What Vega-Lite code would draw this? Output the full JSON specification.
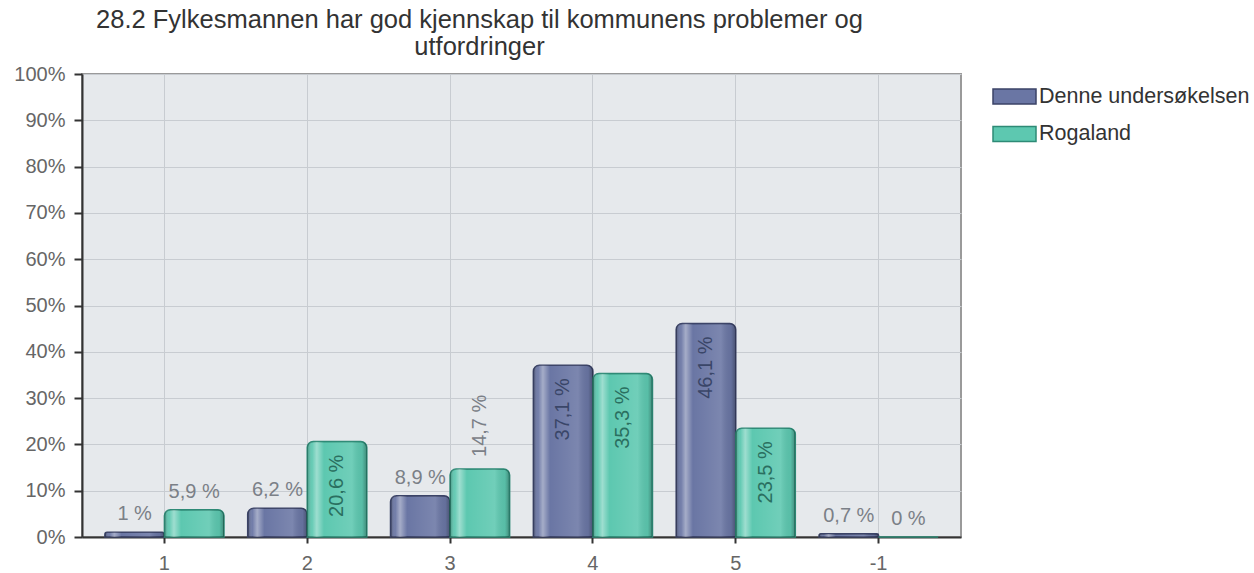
{
  "$schema": "https://vega.github.io/schema/vega-lite/v6.json",
  "width": 879,
  "height": 463,
  "autosize": {"type": "none"},
  "padding": {"left": 82, "top": 74, "right": 293, "bottom": 36},
  "background": "white",
  "config": {
    "font": "Liberation Sans",
    "view": {"fill": "#e6e9ec", "stroke": "#9a9a9a", "strokeWidth": 2}
  },
  "title": {
    "text": ["28.2 Fylkesmannen har god kjennskap til kommunens problemer og", "utfordringer"],
    "anchor": "middle",
    "frame": "group",
    "dx": -42,
    "fontSize": 25.5,
    "fontWeight": "normal",
    "color": "#333333",
    "lineHeight": 27,
    "offset": 4
  },
  "data": {
    "values": [
      {"cat": "1", "series": "Denne undersøkelsen", "value": 1, "label": "1 %"},
      {"cat": "1", "series": "Rogaland", "value": 5.9, "label": "5,9 %"},
      {"cat": "2", "series": "Denne undersøkelsen", "value": 6.2, "label": "6,2 %"},
      {"cat": "2", "series": "Rogaland", "value": 20.6, "label": "20,6 %"},
      {"cat": "3", "series": "Denne undersøkelsen", "value": 8.9, "label": "8,9 %"},
      {"cat": "3", "series": "Rogaland", "value": 14.7, "label": "14,7 %"},
      {"cat": "4", "series": "Denne undersøkelsen", "value": 37.1, "label": "37,1 %"},
      {"cat": "4", "series": "Rogaland", "value": 35.3, "label": "35,3 %"},
      {"cat": "5", "series": "Denne undersøkelsen", "value": 46.1, "label": "46,1 %"},
      {"cat": "5", "series": "Rogaland", "value": 23.5, "label": "23,5 %"},
      {"cat": "-1", "series": "Denne undersøkelsen", "value": 0.7, "label": "0,7 %"},
      {"cat": "-1", "series": "Rogaland", "value": 0, "label": "0 %"}
    ]
  },
  "encoding": {
    "x": {
      "field": "cat", "type": "nominal", "sort": ["1", "2", "3", "4", "5", "-1"],
      "scale": {"paddingInner": 0.166, "paddingOuter": 0.16},
      "axis": {
        "title": null, "labelAngle": 0, "labelFontSize": 20, "labelColor": "#666666",
        "labelPadding": 10, "tickSize": 6, "tickColor": "#333333", "tickWidth": 2,
        "domainColor": "#333333", "domainWidth": 2, "grid": true, "gridColor": "#c8ccd1", "gridWidth": 1
      }
    },
    "xOffset": {"field": "series", "type": "nominal", "sort": ["Denne undersøkelsen", "Rogaland"]},
    "y": {
      "field": "value", "type": "quantitative", "scale": {"domain": [0, 100]},
      "axis": {
        "title": null, "values": [0, 10, 20, 30, 40, 50, 60, 70, 80, 90, 100],
        "labelExpr": "datum.value + '%'", "labelFontSize": 20, "labelColor": "#666666",
        "labelPadding": 9, "tickSize": 8, "tickColor": "#333333", "tickWidth": 2,
        "domainColor": "#333333", "domainWidth": 2, "grid": true, "gridColor": "#c8ccd1", "gridWidth": 1
      }
    }
  },
  "layer": [
    {
      "mark": {"type": "bar", "cornerRadiusTopLeft": 6, "cornerRadiusTopRight": 6, "strokeWidth": 1.5, "opacity": 1},
      "encoding": {
        "color": {
          "field": "series", "type": "nominal", "sort": ["Denne undersøkelsen", "Rogaland"],
          "scale": {"range": ["#6a76a4", "#5dc8b0"]},
          "legend": {
            "title": null, "orient": "none", "legendX": 910, "legendY": 0,
            "symbolType": "M-1,-0.35H1V0.35H-1Z", "symbolSize": 1849, "symbolStrokeWidth": 1.5,
            "symbolOpacity": 1, "labelLimit": 400,
            "labelFontSize": 21.5, "labelColor": "#333333", "labelOffset": 2, "rowPadding": 3.5, "padding": 0,
            "encode": {"symbols": {"update": {"stroke": {"scale": "stroke", "field": "value"}}}}
          }
        },
        "stroke": {
          "field": "series", "type": "nominal", "sort": ["Denne undersøkelsen", "Rogaland"],
          "scale": {"range": ["#3b4367", "#2e8a76"]},
          "legend": null
        }
      }
    },
    {
      "mark": {
        "type": "bar", "cornerRadiusTopLeft": 6, "cornerRadiusTopRight": 6, "strokeOpacity": 0,
        "fill": {
          "gradient": "linear", "x1": 0, "x2": 1, "y1": 0, "y2": 0,
          "stops": [
            {"offset": 0, "color": "rgba(0,0,0,0.28)"},
            {"offset": 0.08, "color": "rgba(255,255,255,0.05)"},
            {"offset": 0.16, "color": "rgba(255,255,255,0.4)"},
            {"offset": 0.28, "color": "rgba(255,255,255,0.0)"},
            {"offset": 0.75, "color": "rgba(255,255,255,0.12)"},
            {"offset": 0.92, "color": "rgba(0,0,0,0.05)"},
            {"offset": 1, "color": "rgba(0,0,0,0.3)"}
          ]
        }
      }
    },
    {
      "transform": [{"filter": "datum.value < 10"}],
      "mark": {"type": "text", "fontSize": 20, "baseline": "alphabetic", "align": "center", "dy": -12, "color": "#7b8087"},
      "encoding": {"text": {"field": "label"}}
    },
    {
      "transform": [{"filter": "datum.value >= 10 && datum.value < 20"}],
      "mark": {"type": "text", "fontSize": 20, "baseline": "middle", "align": "left", "angle": 270, "dx": 12, "color": "#7b8087"},
      "encoding": {"text": {"field": "label"}}
    },
    {
      "transform": [{"filter": "datum.value >= 20"}],
      "mark": {"type": "text", "fontSize": 20, "baseline": "middle", "align": "right", "angle": 270, "dx": -13},
      "encoding": {
        "text": {"field": "label"},
        "color": {"condition": {"test": "datum.series === 'Rogaland'", "value": "#2a6f60"}, "value": "#3a4668"}
      }
    }
  ]
}
